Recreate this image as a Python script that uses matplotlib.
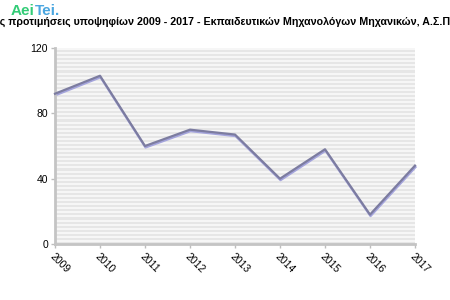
import numpy as np
import matplotlib.pyplot as plt
import matplotlib.transforms as mtransforms

years = ['2009', '2010', '2011', '2012', '2013', '2014', '2015', '2016', '2017']
values = [92, 103, 60, 70, 67, 40, 58, 18, 48]
yticks = [0, 40, 80, 120]
title = ("Πρώτες προτιμήσεις υποψηφίων 2009 - 2017 - "
         "Εκπαιδευτικών Μηχανολόγων Μηχανικών, Α.Σ.ΠΑΙ.Τ.Ε.")

fig = plt.figure(figsize=(4.5, 3), dpi=100)
ax = fig.add_axes([55 / 450, 1 - 244 / 300, 360 / 450, 196 / 300])

x = np.arange(len(years))

# striped background
ax.set_facecolor('#f6f6f6')
for yy in np.arange(0, 120, 2.5):
    ax.axhspan(yy, yy + 1.25, color='#e6e6e6', lw=0, zorder=0)

# line with a light shadow underneath
shadow = ax.transData + mtransforms.ScaledTranslation(0.5 / 100, -1.5 / 100, fig.dpi_scale_trans)
ax.plot(x, values, color='#a4a4dc', lw=1.6, transform=shadow, zorder=2, clip_on=False)
ax.plot(x, values, color='#7c7ca0', lw=1.6, zorder=3, clip_on=False)

ax.set_xlim(0, len(years) - 1)
ax.set_ylim(0, 120)
ax.set_yticks(yticks)
ax.set_xticks(x)
ax.set_xticklabels(years, rotation=-45, ha='left', va='top', rotation_mode='anchor')
ax.tick_params(axis='both', colors='#bdbdbd', labelcolor='black', labelsize=7.5, length=3, width=1)
ax.tick_params(axis='y', pad=2)
ax.tick_params(axis='x', pad=2)
for lab in ax.get_xticklabels() + ax.get_yticklabels():
    lab.set_family('Liberation Sans')

for s in ['top', 'right']:
    ax.spines[s].set_visible(False)
for s in ['left', 'bottom']:
    ax.spines[s].set_color('#c4c4c4')
    ax.spines[s].set_linewidth(2)

fig.canvas.draw()
r = fig.canvas.get_renderer()

# logo
aei = fig.text(11 / 450, 1 - 11 / 300, 'Aei', color='#33cc77', fontsize=11, fontweight='bold',
               family='Liberation Sans', va='center', ha='left')
aw = aei.get_window_extent(r).width
fig.text((11 + aw) / 450, 1 - 11 / 300, 'Tei.', color='#4aa6e0', fontsize=11, fontweight='bold',
         family='Liberation Sans', va='center', ha='left')

# title, cut off at both sides like the original
probe = fig.text(0, 0, 'Πρώτε', fontsize=7.7, fontweight='bold', family='Liberation Sans')
w = probe.get_window_extent(r).width
probe.remove()
fig.text(-w / 450, 1 - 22 / 300, title, fontsize=7.7, fontweight='bold',
         family='Liberation Sans', va='center', ha='left')

fig.savefig('out.png', dpi=100)
